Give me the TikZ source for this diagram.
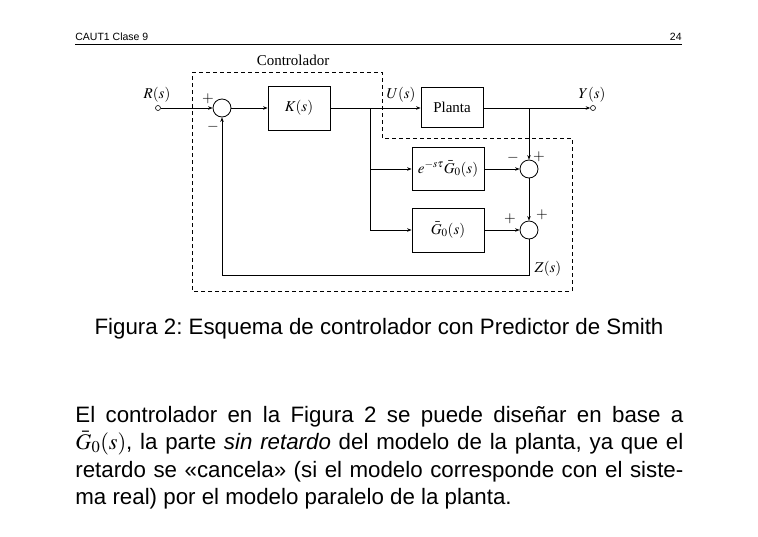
\documentclass[tikz,border=0pt]{standalone}
\usepackage{mathptmx}
\usepackage{fontspec}
\setmainfont{Liberation Sans}
\newfontfamily\diagfont{Liberation Serif}
\usepackage{tikz}
\usetikzlibrary{arrows.meta, positioning}
\frenchspacing

\begin{document}
\begin{tikzpicture}[
  x=1pt, y=-1pt,
  >={Stealth[length=4.5pt,width=3.5pt]},
  line width=0.8pt,
  blk/.style={draw, inner sep=0pt, font=\diagfont\fontsize{15}{18}\selectfont},
  sum/.style={draw, circle, minimum size=18pt, inner sep=0pt},
  term/.style={draw, circle, minimum size=5pt, inner sep=0pt, line width=0.6pt},
  lbl/.style={inner sep=0pt, font=\diagfont\fontsize{15}{18}\selectfont},
  sgn/.style={inner sep=0pt, font=\fontsize{15}{18}\selectfont},
  txt/.style={inner sep=0pt, anchor=base west, font=\fontsize{22.3}{27.5}\selectfont}
]
\useasboundingbox[fill=white] (0,0) rectangle (758,536);

% header
\node[inner sep=0pt, anchor=base west, font=\fontsize{10.5}{12}\selectfont] (hdr) at (75,40) {CAUT1 Clase 9};
\node[inner sep=0pt, anchor=base east, font=\fontsize{10.5}{12}\selectfont] (pg) at (682,40) {24};
\draw[line width=1pt] (75,44) -- (682,44);

% controller region
\draw[dashed, dash pattern=on 4pt off 3pt] (192,72) -- (382,72) -- (382,138) -- (572,138) -- (572,291) -- (192,291) -- cycle;
\node[lbl] (ctl) at (293,60) {Controlador};

% blocks
\node[term] (r) at (158,108) {};
\node[sum] (s1) at (222,108) {};
\node[blk, minimum width=62pt, minimum height=44pt] (k) at (299,108) {$K(s)$};
\node[blk, minimum width=62pt, minimum height=40pt] (plant) at (452,107) {Planta};
\node[term] (y) at (593,108) {};
\node[blk, minimum width=72pt, minimum height=43pt] (gd) at (448,169) {$e^{-s\tau}\bar{G}_0(s)$};
\node[blk, minimum width=72pt, minimum height=44pt] (g0) at (448,230) {$\bar{G}_0(s)$};
\node[sum] (s2) at (529,169) {};
\node[sum] (s3) at (529,230) {};

\coordinate (bu) at (370,108);
\coordinate (by) at (529,108);
\coordinate (zc) at (529,275);

% labels
\node[lbl] (rl) at (157,95) {$R(s)$};
\node[lbl] (ul) at (401,95) {$U(s)$};
\node[lbl] (yl) at (592,95) {$Y(s)$};
\node[lbl] (zl) at (548,269) {$Z(s)$};
\node[sgn] at (208,99) {$+$};
\node[sgn] at (213,127) {$-$};
\node[sgn] at (513,158) {$-$};
\node[sgn] at (539,157) {$+$};
\node[sgn] at (510,219) {$+$};
\node[sgn] at (542,215) {$+$};

% connections
\draw[->] (r.east) -- (s1.west);
\draw[->] (s1.east) -- (k.west);
\draw[->] (k.east) -- (plant.west |- bu);
\draw[->] (plant.east |- by) -- (y.west);
\draw[->] (bu) |- (gd.west);
\draw[->] (bu) |- (g0.west);
\draw[->] (by) -- (s2.north);
\draw[->] (gd.east) -- (s2.west);
\draw[->] (s2.south) -- (s3.north);
\draw[->] (g0.east) -- (s3.west);
\draw[->] (s3.south) -- (zc) -| (s1.south);

% caption and text
\node[inner sep=0pt, anchor=base, font=\fontsize{22.3}{26}\selectfont] (cap) at (379,334) {Figura 2: Esquema de controlador con Predictor de Smith};
\node[txt] (l1) at (75,422) {\makebox[608pt][s]{El controlador en la Figura 2 se puede diseñar en base a}};
\node[txt] (l2) at (75,449.5) {\makebox[608pt][s]{$\bar{G}_0(s)$, la parte \textit{sin retardo} del modelo de la planta, ya que el}};
\node[txt] (l3) at (75,477) {\makebox[608pt][s]{retardo se «cancela» (si el modelo corresponde con el siste-}};
\node[txt] (l4) at (75,504.5) {ma real) por el modelo paralelo de la planta.};
\end{tikzpicture}
\end{document}
